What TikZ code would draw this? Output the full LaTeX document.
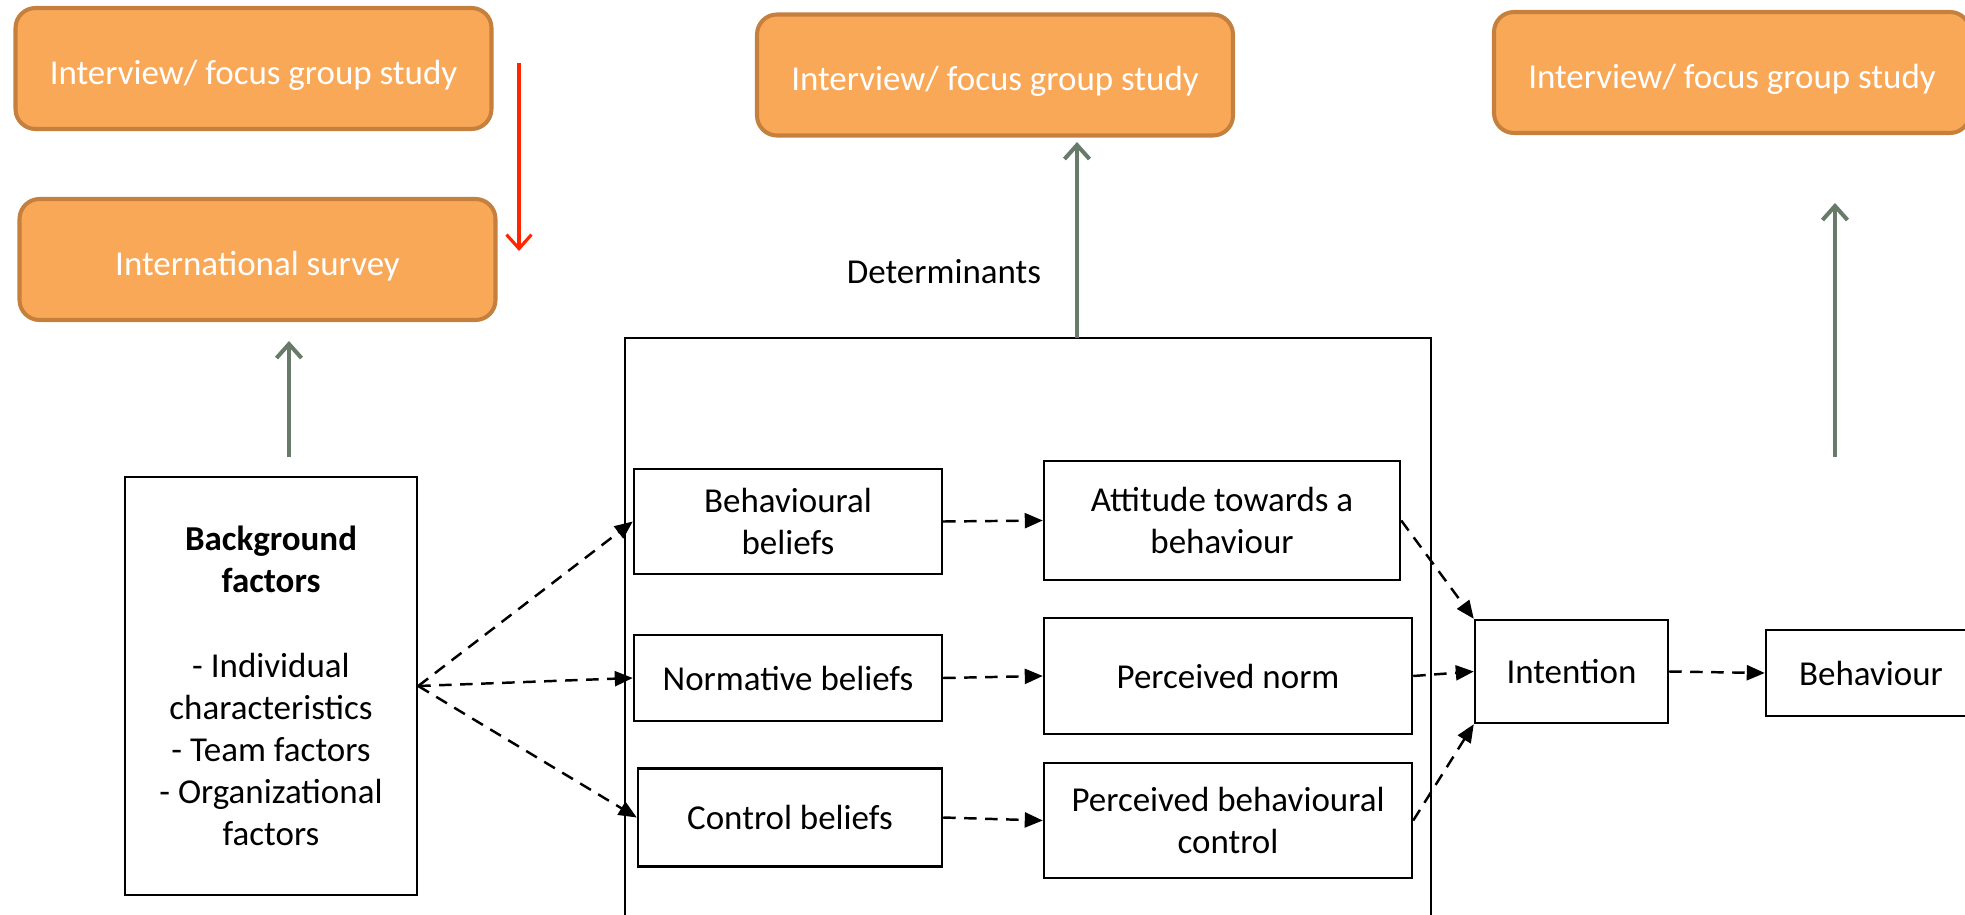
\documentclass[tikz,border=0pt]{standalone}
\usepackage{fontspec}
\setmainfont{Carlito}
\usetikzlibrary{arrows.meta}
\definecolor{boxorange}{RGB}{249,168,88}
\definecolor{boxedge}{RGB}{197,128,62}
\definecolor{liftgrey}{RGB}{104,122,106}
\definecolor{liftred}{RGB}{255,38,0}

\begin{document}
\begin{tikzpicture}[>={Triangle[length=0.36cm,width=0.3cm]},
    font=\fontsize{19.9}{24}\selectfont,
    study/.style={draw=boxedge, fill=boxorange, line width=2.3pt, rounded corners=0.4cm,
      text=white, minimum width=9.52cm, minimum height=2.42cm, inner sep=0pt,
      text height=17.8pt, text depth=0pt},
    factor/.style={draw, line width=1.4pt, align=center, inner sep=0pt},
    flow/.style={->, line width=1.4pt, dash pattern=on 0.25cm off 0.17cm},
    lift/.style={-{Straight Barb[length=0.28cm,width=0.5cm]}, liftgrey, line width=2.3pt}]

    \useasboundingbox (0,0) rectangle (39.3,-18.3);

    % --- Studies (orange boxes)
    \node[study] (iv1) at (5.07,-1.37) {Interview/ focus group study};
    \node[study] (survey) at (5.15,-5.19) {International survey};
    \node[study] (iv2) at (19.9,-1.5) {Interview/ focus group study};
    \node[study] (iv3) at (34.64,-1.45) {Interview/ focus group study};

    % --- Background factors
    \node[factor, minimum width=5.84cm, minimum height=8.36cm] (BF) at (5.42,-13.72)
      {\textbf{Background}\\\textbf{factors}\\[24pt]- Individual\\characteristics\\- Team factors\\- Organizational\\factors};

    % --- Determinants
    \node[draw, line width=1.2pt, minimum width=16.12cm, minimum height=12.5cm, inner sep=0pt] (det) at (20.56,-13.01) {};
    \node (detlabel) at (18.88,-5.44) {Determinants};

    % Beliefs
    \node[factor, minimum width=6.16cm, minimum height=2.1cm] (BB) at (15.76,-10.43) {Behavioural\\beliefs};
    \node[factor, minimum width=6.16cm, minimum height=1.72cm] (NB) at (15.76,-13.56) {Normative beliefs};
    \node[factor, minimum width=6.08cm, minimum height=1.96cm] (CB) at (15.8,-16.35) {Control beliefs};

    % Attitudes, norm and control
    \node[factor, minimum width=7.12cm, minimum height=2.38cm] (AT) at (24.44,-10.41) {Attitude towards a\\behaviour};
    \node[factor, minimum width=7.36cm, minimum height=2.32cm] (PN) at (24.56,-13.52) {Perceived norm};
    \node[factor, minimum width=7.36cm, minimum height=2.3cm] (PBC) at (24.56,-16.41) {Perceived behavioural\\control};

    % --- Intention and behaviour
    \node[factor, minimum width=3.86cm, minimum height=2.06cm] (IN) at (31.43,-13.43) {Intention};
    \node[factor, minimum width=4.2cm, minimum height=1.72cm] (BH) at (37.42,-13.46) {Behaviour};

    % --- Free ends of the study arrows
    \coordinate (g1s) at (5.78,-9.14);
    \coordinate (g1e) at (5.78,-6.82);
    \coordinate (g2s) at (21.54,-6.76);
    \coordinate (g2e) at (21.54,-2.84);
    \coordinate (g3s) at (36.7,-9.14);
    \coordinate (g3e) at (36.7,-4.06);
    \coordinate (rs) at (10.38,-1.26);
    \coordinate (re) at (10.38,-5.02);

    % Arrows
    \draw[lift] (g1s) -- (g1e);
    \draw[lift] (g2s) -- (g2e);
    \draw[lift] (g3s) -- (g3e);
    \draw[lift, liftred, line width=1.8pt] (rs) -- (re);

    \draw[flow] (BF.east) -- (BB.west);
    \draw[flow] (BF.east) -- (NB.west);
    \draw[flow] (BF.east) -- (CB.west);
    \draw[flow] (BB.east) -- (AT.west);
    \draw[flow] (NB.east) -- (PN.west);
    \draw[flow] (CB.east) -- (PBC.west);
    \draw[flow] (AT.east) -- (IN.north west);
    \draw[flow] (PN.east) -- (IN.west);
    \draw[flow] (PBC.east) -- (IN.south west);
    \draw[flow] (IN.east) -- (BH.west);

\end{tikzpicture}
\end{document}
